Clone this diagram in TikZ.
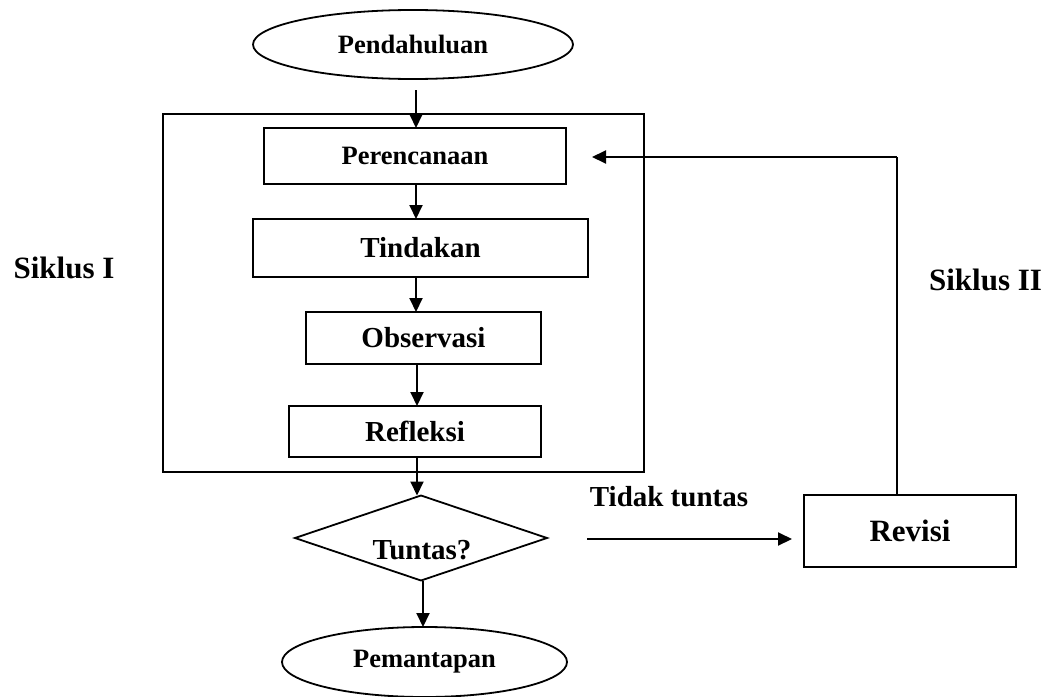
\documentclass[tikz,border=0pt]{standalone}
\usepackage{fontspec}
\setmainfont{Liberation Serif}
\usetikzlibrary{shapes.geometric,arrows.meta}
\begin{document}
\begin{tikzpicture}[x=1pt,y=-1pt,
  every node/.style={font=\bfseries, inner sep=0pt, outer sep=0pt},
  boxnode/.style={draw, line width=2.2pt, rectangle},
  ovalnode/.style={draw, line width=1.8pt, ellipse},
  fsA/.style={font=\fontsize{26.5}{30}\selectfont\bfseries},
  fsB/.style={font=\fontsize{29}{33}\selectfont\bfseries},
  fsC/.style={font=\fontsize{31}{35}\selectfont\bfseries},
  arr/.style={line width=2pt, -{Triangle[length=14pt,width=13pt]}},
  thin/.style={line width=1.5pt}
]
\useasboundingbox (0,0) rectangle (1049,696);

% outer frame
\node[draw, line width=1.9pt, minimum width=481pt, minimum height=358pt] (frame) at (403.5,293) {};

\node[ovalnode, fsA, minimum width=320pt, minimum height=69pt] (pend) at (413,44.5) {Pendahuluan};
\node[boxnode, fsA, minimum width=302pt, minimum height=56pt] (per) at (415,156) {Perencanaan};
\node[boxnode, fsB, minimum width=335pt, minimum height=58pt] (tin) at (420.5,248) {Tindakan};
\node[boxnode, fsB, minimum width=235pt, minimum height=52pt] (obs) at (423.5,338) {Observasi};
\node[boxnode, fsB, minimum width=252pt, minimum height=51pt] (ref) at (415,431.5) {Refleksi};
\node[draw, diamond, line width=1.8pt, minimum width=252pt, minimum height=85pt] (tun) at (421,538) {};
\node[fsB] (tuntxt) at (422,550) {Tuntas?};
\node[ovalnode, fsA, minimum width=285pt, minimum height=70pt] (pem) at (424.5,662) {Pemantapan};
\node[boxnode, fsC, minimum width=212pt, minimum height=72pt] (rev) at (910,531) {Revisi};

\node[fsC] (s1) at (64,268) {Siklus I};
\node[fsC] (s2) at (985.5,280) {Siklus II};
\node[fsB] (tt) at (669,497) {Tidak tuntas};

% vertical flow
\draw[arr] ([yshift=-11pt]pend.south -| 416,0) -- (416,0 |- per.north);
\draw[arr] (416,0 |- per.south) -- (416,0 |- tin.north);
\draw[arr] (416,0 |- tin.south) -- (416,0 |- obs.north);
\draw[arr] (417,0 |- obs.south) -- (417,0 |- ref.north);
\draw[arr] (417,0 |- ref.south) -- (417,0 |- tun.north);
\draw[arr] (423,0 |- tun.south) -- (423,0 |- pem.north);

% tidak tuntas
\coordinate (tstart) at (587,539);
\draw[arr] (tstart) -- ([xshift=-12pt]rev.west |- tstart);

% siklus II loop
\coordinate (revtop) at (897,0 |- rev.north);
\coordinate (corner) at (897,157);
\draw[thin] (revtop) -- (corner);
\draw[arr] (corner) -- ([xshift=26pt]per.east |- corner);
\end{tikzpicture}
\end{document}
